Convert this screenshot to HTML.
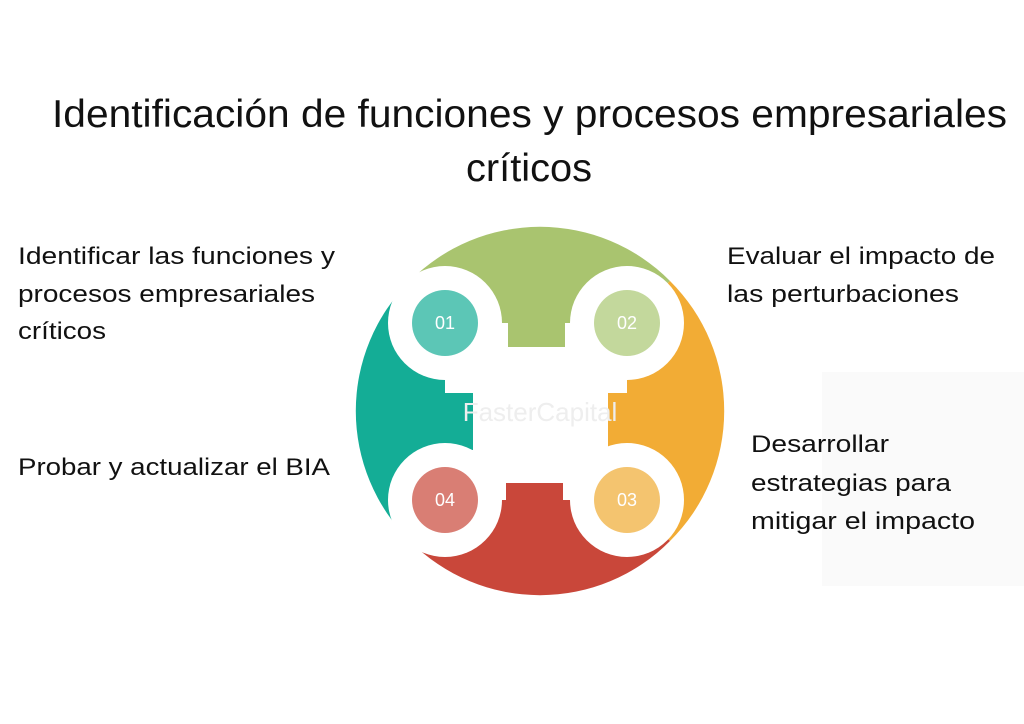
<!DOCTYPE html>
<html><head><meta charset="utf-8"><style>
html,body{margin:0;padding:0;background:#fff;}
svg{display:block}
text{font-family:"Liberation Sans",sans-serif;fill:#111;}
</style></head><body>
<svg width="1024" height="724" viewBox="0 0 1024 724">
<rect x="822" y="372" width="202" height="214" fill="#fafafa"/>
<text x="52" y="127" font-size="39" textLength="955" lengthAdjust="spacingAndGlyphs">Identificación de funciones y procesos empresariales</text>
<text x="466" y="181" font-size="39" textLength="126" lengthAdjust="spacingAndGlyphs">críticos</text>

<g font-size="24">
<text x="18" y="264" textLength="317" lengthAdjust="spacingAndGlyphs">Identificar las funciones y</text>
<text x="18" y="302" textLength="297" lengthAdjust="spacingAndGlyphs">procesos empresariales</text>
<text x="18" y="339" textLength="88" lengthAdjust="spacingAndGlyphs">críticos</text>
<text x="18" y="475" textLength="312" lengthAdjust="spacingAndGlyphs">Probar y actualizar el BIA</text>
<text x="727" y="264" textLength="268" lengthAdjust="spacingAndGlyphs">Evaluar el impacto de</text>
<text x="727" y="302" textLength="232" lengthAdjust="spacingAndGlyphs">las perturbaciones</text>
<text x="751" y="452" textLength="138" lengthAdjust="spacingAndGlyphs">Desarrollar</text>
<text x="751" y="491" textLength="200" lengthAdjust="spacingAndGlyphs">estrategias para</text>
<text x="751" y="529" textLength="224" lengthAdjust="spacingAndGlyphs">mitigar el impacto</text>
</g>

<g>
<path d="M540 411 L410 281 A183 183 0 0 1 670 281 Z" fill="#a9c46f"/>
<path d="M540 411 L670 281 A183 183 0 0 1 670 541 Z" fill="#f2ac35"/>
<path d="M540 411 L670 541 A183 183 0 0 1 410 541 Z" fill="#c9473a"/>
<path d="M540 411 L410 541 A183 183 0 0 1 410 281 Z" fill="#14ad96"/>
<rect x="445" y="323" width="182" height="177" fill="#fff"/>
<rect x="508" y="300" width="57" height="47" fill="#a9c46f"/>
<rect x="430" y="393" width="43" height="57" fill="#14ad96"/>
<rect x="608" y="393" width="45" height="57" fill="#f2ac35"/>
<rect x="506" y="483" width="57" height="40" fill="#c9473a"/>
<circle cx="445" cy="323" r="57" fill="#fff"/>
<circle cx="627" cy="323" r="57" fill="#fff"/>
<circle cx="627" cy="500" r="57" fill="#fff"/>
<circle cx="445" cy="500" r="57" fill="#fff"/>
<circle cx="445" cy="323" r="33" fill="#5cc6b6"/>
<circle cx="627" cy="323" r="33" fill="#c3d89c"/>
<circle cx="627" cy="500" r="33" fill="#f4c46f"/>
<circle cx="445" cy="500" r="33" fill="#d97e74"/>
<g font-size="18" text-anchor="middle">
<text x="445" y="329" style="fill:#fff">01</text>
<text x="627" y="329" style="fill:#fff">02</text>
<text x="627" y="506" style="fill:#fff">03</text>
<text x="445" y="506" style="fill:#fff">04</text>
</g>
<text x="540" y="421" font-size="26" text-anchor="middle" style="fill:#eeeeee">FasterCapital</text>
</g>
</svg>
</body></html>
